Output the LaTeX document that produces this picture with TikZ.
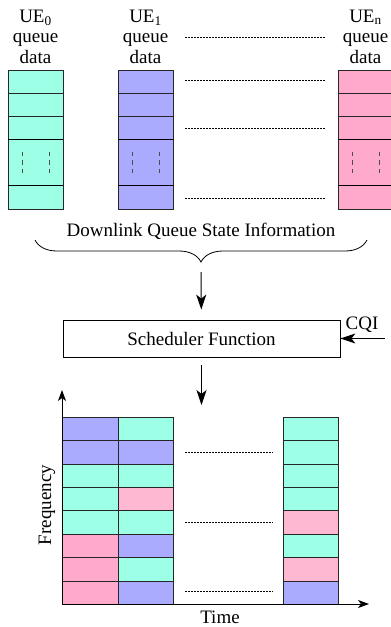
\documentclass[tikz,border=0pt]{standalone}
\usepackage{fontspec}
\setmainfont{Liberation Serif}
\usetikzlibrary{positioning,arrows.meta,decorations.pathreplacing}

\definecolor{uecyan}{HTML}{9CFFE6}
\definecolor{ueblue}{HTML}{AAAAFF}
\definecolor{uepink}{HTML}{FFAACC}
\definecolor{uerose}{HTML}{FFB8D2}

\begin{document}
\begin{tikzpicture}[
x=1pt, y=-1pt,
node distance=0pt,
every node/.style={font=\fontsize{19}{20.5}\selectfont},
cell/.style={draw=black!85, outer sep=0pt, inner sep=0pt, minimum width=55pt, minimum height=23.2pt},
tall/.style={cell, minimum height=46pt},
slot/.style={draw=black!85, outer sep=0pt, inner sep=0pt, minimum width=55.5pt, minimum height=23.4pt},
qdash/.style={black!70, dash pattern=on 4.5pt off 4pt},
dotline/.style={dash pattern=on 1.5pt off 1.5pt, line width=0.7pt},
flow/.style={-{Stealth[length=15pt,width=10pt,inset=4pt]}, line width=1pt},
axis/.style={-{Stealth[length=11pt,width=8pt,inset=3pt]}, line width=0.8pt}
]
\useasboundingbox (0,0) rectangle (391,627);

%-------------------------
% Colas
%-------------------------

\node (q0a) [cell, fill=uecyan, anchor=north] at (35.5,70) {};
\node (q0b) [cell, fill=uecyan, below=of q0a] {};
\node (q0c) [cell, fill=uecyan, below=of q0b] {};
\node (q0d) [tall, fill=uecyan, below=of q0c] {};
\node (q0e) [cell, fill=uecyan, below=of q0d] {};

\node (q1a) [cell, fill=ueblue, anchor=north] at (145.5,70) {};
\node (q1b) [cell, fill=ueblue, below=of q1a] {};
\node (q1c) [cell, fill=ueblue, below=of q1b] {};
\node (q1d) [tall, fill=ueblue, below=of q1c] {};
\node (q1e) [cell, fill=ueblue, below=of q1d] {};

\node (qna) [cell, fill=uepink, anchor=north] at (365.5,70) {};
\node (qnb) [cell, fill=uepink, below=of qna] {};
\node (qnc) [cell, fill=uepink, below=of qnb] {};
\node (qnd) [tall, fill=uepink, below=of qnc] {};
\node (qne) [cell, fill=uepink, below=of qnd] {};

\draw[line width=1.1pt] (q0d.north west) -- (q0d.north east) (q0d.south west) -- (q0d.south east);
\draw[line width=1.1pt] (q1d.north west) -- (q1d.north east) (q1d.south west) -- (q1d.south east);
\draw[line width=1.1pt] (qnd.north west) -- (qnd.north east) (qnd.south west) -- (qnd.south east);

\node (l0) [above=3pt of q0a, align=center] {UE\textsubscript{0}\\queue\\data};
\node (l1) [above=3pt of q1a, align=center] {UE\textsubscript{1}\\queue\\data};
\node (ln) [above=3pt of qna, align=center] {UE\textsubscript{n}\\queue\\data};

\draw[qdash] ([xshift=14pt,yshift=-12pt]q0d.north west) -- ([xshift=14pt,yshift=11pt]q0d.south west);
\draw[qdash] ([xshift=41pt,yshift=-12pt]q0d.north west) -- ([xshift=41pt,yshift=11pt]q0d.south west);
\draw[qdash] ([xshift=14pt,yshift=-12pt]q1d.north west) -- ([xshift=14pt,yshift=11pt]q1d.south west);
\draw[qdash] ([xshift=41pt,yshift=-12pt]q1d.north west) -- ([xshift=41pt,yshift=11pt]q1d.south west);
\draw[qdash] ([xshift=14pt,yshift=-12pt]qnd.north west) -- ([xshift=14pt,yshift=11pt]qnd.south west);
\draw[qdash] ([xshift=41pt,yshift=-12pt]qnd.north west) -- ([xshift=41pt,yshift=11pt]qnd.south west);

\draw[dotline] (185,37) -- (325,37);
\draw[dotline] (185,80) -- (325,80);
\draw[dotline] (185,128) -- (325,128);
\draw[dotline] (185,198) -- (325,198);

%-------------------------
% Llave y planificador
%-------------------------

\draw[decorate, decoration={brace, mirror, amplitude=22pt}, line width=0.8pt] (35,240) -- (367,240);
\coordinate (tip) at (201,262);
\node (dqsi) at (201,231) {Downlink Queue State Information};

\node (sched) [draw, line width=0.8pt, minimum width=277pt, minimum height=37pt] at (201.5,338.5) {Scheduler Function};
\node (cqi) at (362,325) {CQI};
\coordinate (cqin) at (385,338.5);
\coordinate (gtop) at (201.5,417);

%-------------------------
% Rejilla tiempo-frecuencia
%-------------------------

\node (g11) [slot, fill=ueblue, anchor=north] at (90,417) {};
\node (g12) [slot, fill=ueblue, below=of g11] {};
\node (g13) [slot, fill=uecyan, below=of g12] {};
\node (g14) [slot, fill=uecyan, below=of g13] {};
\node (g15) [slot, fill=uecyan, below=of g14] {};
\node (g16) [slot, fill=uepink, below=of g15] {};
\node (g17) [slot, fill=uepink, below=of g16] {};
\node (g18) [slot, fill=uepink, below=of g17] {};

\node (g21) [slot, fill=uecyan, right=of g11] {};
\node (g22) [slot, fill=ueblue, below=of g21] {};
\node (g23) [slot, fill=uecyan, below=of g22] {};
\node (g24) [slot, fill=uerose, below=of g23] {};
\node (g25) [slot, fill=uecyan, below=of g24] {};
\node (g26) [slot, fill=ueblue, below=of g25] {};
\node (g27) [slot, fill=uecyan, below=of g26] {};
\node (g28) [slot, fill=ueblue, below=of g27] {};

\node (g31) [slot, fill=uecyan, anchor=north] at (310.75,417) {};
\node (g32) [slot, fill=uecyan, below=of g31] {};
\node (g33) [slot, fill=uecyan, below=of g32] {};
\node (g34) [slot, fill=uecyan, below=of g33] {};
\node (g35) [slot, fill=uerose, below=of g34] {};
\node (g36) [slot, fill=uecyan, below=of g35] {};
\node (g37) [slot, fill=uerose, below=of g36] {};
\node (g38) [slot, fill=ueblue, below=of g37] {};

\draw[dotline] (185,452) -- (273,452);
\draw[dotline] (185,522) -- (273,522);
\draw[dotline] (185,591) -- (273,591);

\coordinate (orig) at (62,604);
\coordinate (ytop) at (62,390);
\coordinate (xend) at (369,604);

\node (freq) [rotate=90] at (47,505) {Frequency};
\node (time) at (220,617) {Time};

%-------------------------
% Flechas
%-------------------------

\draw[flow, shorten <=10pt, shorten >=10pt] (tip) -- (sched);
\draw[flow] (cqin) -- (sched);
\draw[flow, shorten <=8pt, shorten >=12pt] (sched) -- (gtop);

\draw[axis] (orig) -- (ytop);
\draw[axis] (orig) -- (xend);

\end{tikzpicture}
\end{document}
